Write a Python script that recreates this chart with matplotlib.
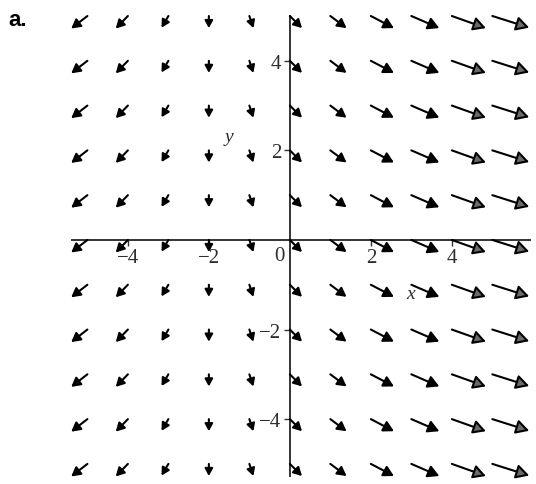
import numpy as np
import matplotlib
matplotlib.use("Agg")
import matplotlib.pyplot as plt

# Grid of sample points
x_grid = [-5, -4, -3, -2, -1, 0, 1, 2, 3, 4, 5]
y_grid = [-5, -4, -3, -2, -1, 0, 1, 2, 3, 4, 5]

# Field components for each column (field depends on x only)
u_col = [-0.40, -0.30, -0.17, 0.0, 0.10, 0.30, 0.40, 0.57, 0.69, 0.84, 0.91]
v_col = [-0.28, -0.28, -0.26, -0.27, -0.27, -0.27, -0.27, -0.27, -0.27, -0.27, -0.26]

x_ticks = [-4, -2, 0, 2, 4]
x_tick_labels = ["\u22124", "\u22122", "0", "2", "4"]
y_ticks = [-4, -2, 2, 4]
y_tick_labels = ["\u22124", "\u22122", "2", "4"]

W, H, DPI = 536, 485, 100
fig = plt.figure(figsize=(W / DPI, H / DPI), dpi=DPI)

# axes box in pixels: x from 72 to 530, y from 17 (top) to 477 (bottom)
left, right, top, bottom = 72, 530, 17, 477
ax = fig.add_axes([left / W, 1 - bottom / H, (right - left) / W, (bottom - top) / H])
ax.set_xlim(-5.38, 5.93)
ax.set_ylim(-5.27, 5.0)
ax.patch.set_alpha(0)

serif = ["Liberation Serif", "DejaVu Serif"]
label_color = "#2e2e2e"

# axes through the origin
for side in ("top", "right"):
    ax.spines[side].set_visible(False)
ax.spines["left"].set_position(("data", 0))
ax.spines["bottom"].set_position(("data", 0))
for side in ("left", "bottom"):
    ax.spines[side].set_color("#333333")
    ax.spines[side].set_linewidth(1.4)

ax.set_xticks([t for t in x_ticks if t != 0])
ax.set_xticklabels([l for t, l in zip(x_ticks, x_tick_labels) if t != 0],
                   family=serif, fontsize=15, color=label_color)
ax.set_yticks(y_ticks)
ax.set_yticklabels(y_tick_labels, family=serif, fontsize=15, color=label_color)
ax.tick_params(axis="both", length=4, width=1.0, color="#333333", pad=2)
ax.text(-0.12, -0.14, "0", family=serif, fontsize=15, color=label_color,
        ha="right", va="top")

ax.text(2.99, -1.2, "x", family=serif, style="italic", fontsize=14, color=label_color,
        ha="center", va="center")
ax.text(-1.5, 2.32, "y", family=serif, style="italic", fontsize=14, color=label_color,
        ha="center", va="center")

# pixel scale of the data axes
fig.canvas.draw()
p0 = ax.transData.transform((0, 0))
p1 = ax.transData.transform((1, 1))
sx, sy = p1[0] - p0[0], p1[1] - p0[1]
pt_per_px = 72.0 / DPI

for j, xv in enumerate(x_grid):
    u, v = u_col[j], v_col[j]
    L = np.hypot(u * sx, v * sy)
    head_px = 3.8 + 0.18 * L
    ms = head_px * pt_per_px / 0.4
    face = "#6a6a6a" if L > 32 else "black"
    for yv in y_grid:
        ax.annotate("", xy=(xv + u, yv + v), xytext=(xv, yv),
                    arrowprops=dict(arrowstyle="-|>,head_length=0.4,head_width=0.22",
                                    mutation_scale=ms,
                                    lw=1.5, ec="black", fc=face,
                                    shrinkA=0, shrinkB=0),
                    annotation_clip=False)

fig.text(8 / W, 1 - 20 / H, "a.", family=["Liberation Sans", "DejaVu Sans"],
         fontweight="bold", fontsize=16, ha="left", va="center")

fig.savefig("out.png", dpi=DPI)
